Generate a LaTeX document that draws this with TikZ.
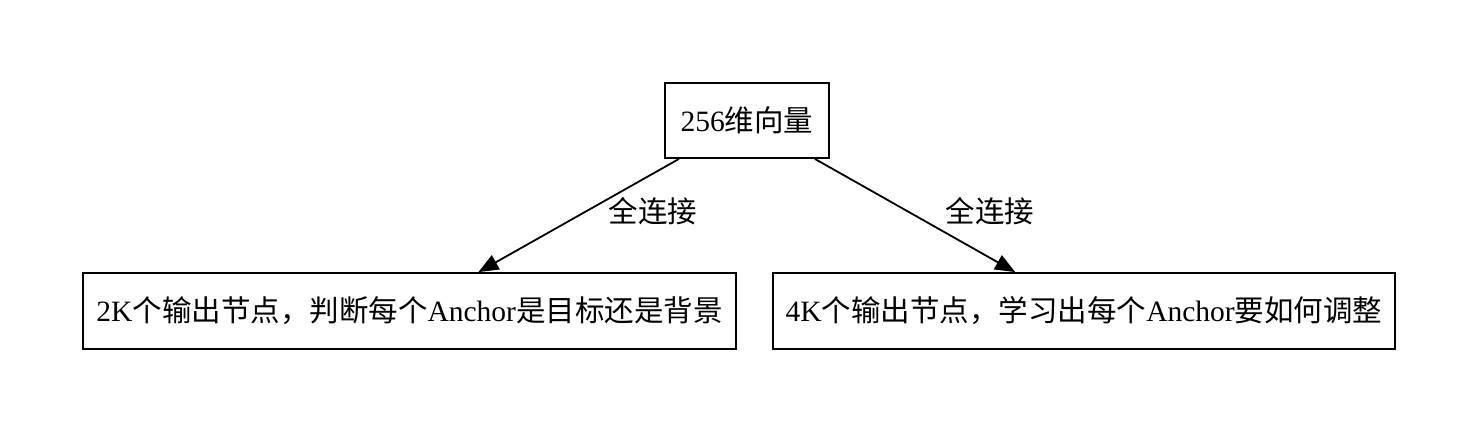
\documentclass[tikz,border=0pt]{standalone}
\usepackage{fontspec}
\setmainfont{Liberation Serif}
\newfontfamily\cjk{Noto Sans CJK SC}
\usetikzlibrary{arrows.meta}
\begin{document}
\begin{tikzpicture}[x=1pt,y=-1pt,
  box/.style={draw, line width=1.8pt, inner sep=0pt, align=center, font=\fontsize{29.5}{32}\selectfont},
  conn/.style={line width=1.8pt, -{Triangle[length=20pt,width=16pt]}},
  lbl/.style={font=\fontsize{29.5}{32}\selectfont}]
\useasboundingbox (0,0) rectangle (1479,433);
\node[box, minimum width=164pt, minimum height=75pt] (top) at (747,120.5) {256{\cjk 维向量}};
\node[box, minimum width=653pt, minimum height=76pt] (left) at (409.5,311) {2K{\cjk 个输出节点，判断每个}Anchor{\cjk 是目标还是背景}};
\node[box, minimum width=622pt, minimum height=76pt] (right) at (1084,311) {4K{\cjk 个输出节点，学习出每个}Anchor{\cjk 要如何调整}};
\draw[conn] (top) -- (left);
\draw[conn] (top) -- (right);
\node[lbl] (l1) at (653,211) {\cjk 全连接};
\node[lbl] (l2) at (990,211) {\cjk 全连接};
\end{tikzpicture}
\end{document}
